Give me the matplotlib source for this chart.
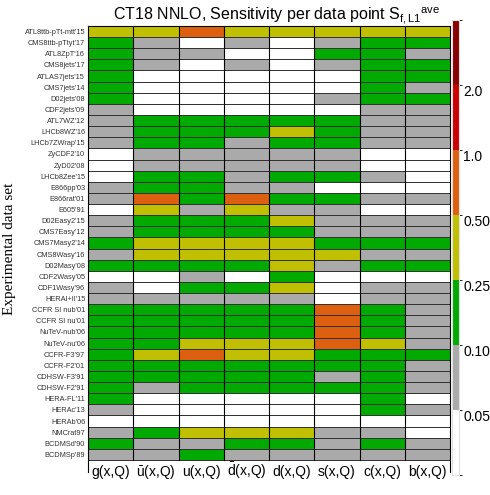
import numpy as np
import matplotlib
matplotlib.use('Agg')
import matplotlib.pyplot as plt
from matplotlib.colors import ListedColormap, BoundaryNorm

plt.rcParams['font.family'] = ['Liberation Sans', 'DejaVu Sans']
plt.rcParams['mathtext.fontset'] = 'custom'
plt.rcParams['mathtext.rm'] = 'Liberation Sans'
plt.rcParams['mathtext.it'] = 'Liberation Sans:italic'

# data sets, top to bottom
datasets = ["ATL8ttb-pTt-mtt'15", "CMS8ttb-pTtyt'17", "ATL8ZpT'16", "CMS8jets'17",
            "ATLAS7jets'15", "CMS7jets'14", "D02jets'08", "CDF2jets'09", "ATL7WZ'12",
            "LHCb8WZ'16", "LHCb7ZWrap'15", "ZyCDF2'10", "ZyD02'08", "LHCb8Zee'15",
            "E866pp'03", "E866rat'01", "E605'91", "D02Easy2'15", "CMS7Easy'12",
            "CMS7Masy2'14", "CMS8Wasy'16", "D02Masy'08", "CDF2Wasy'05", "CDF1Wasy'96",
            "HERAI+II'15", "CCFR SI nub'01", "CCFR SI nu'01", "NuTeV-nub'06",
            "NuTeV-nu'06", "CCFR-F3'97", "CCFR-F2'01", "CDHSW-F3'91", "CDHSW-F2'91",
            "HERA-FL'11", "HERAc'13", "HERAb'06", "NMCrat97", "BCDMSd'90", "BCDMSp'89"]

partons = [r'g(x,Q)', r'$\mathregular{\bar{u}}$(x,Q)', r'u(x,Q)', r'$\mathregular{\bar{d}}$(x,Q)',
           r'd(x,Q)', r's(x,Q)', r'c(x,Q)', r'b(x,Q)']

# approximate sensitivity per data point (bin representative values)
s_g = [0.35, 0.15, 0.15, 0.15, 0.15, 0.15, 0.15, 0.07, 0.07, 0.07, 0.07, 0.03, 0.03,
       0.03, 0.07, 0.07, 0.03, 0.07, 0.07, 0.15, 0.07, 0.15, 0.03, 0.07, 0.07, 0.15,
       0.15, 0.15, 0.15, 0.15, 0.15, 0.15, 0.15, 0.15, 0.07, 0.03, 0.07, 0.15, 0.07]
s_ubar = [0.35, 0.07, 0.07, 0.07, 0.03, 0.03, 0.03, 0.03, 0.15, 0.15, 0.15, 0.07, 0.07,
          0.15, 0.15, 0.7, 0.35, 0.15, 0.15, 0.35, 0.35, 0.15, 0.03, 0.03, 0.07, 0.15,
          0.15, 0.15, 0.15, 0.35, 0.15, 0.15, 0.07, 0.03, 0.03, 0.03, 0.15, 0.07, 0.07]
s_u = [0.7, 0.03, 0.07, 0.03, 0.03, 0.03, 0.03, 0.03, 0.15, 0.15, 0.15, 0.07, 0.07,
       0.15, 0.15, 0.15, 0.07, 0.15, 0.15, 0.35, 0.35, 0.15, 0.07, 0.15, 0.07, 0.15,
       0.15, 0.15, 0.35, 0.7, 0.15, 0.15, 0.15, 0.03, 0.03, 0.03, 0.35, 0.07, 0.15]
s_dbar = [0.35, 0.07, 0.03, 0.07, 0.03, 0.03, 0.03, 0.03, 0.15, 0.15, 0.07, 0.07, 0.07,
          0.07, 0.07, 0.7, 0.35, 0.15, 0.15, 0.35, 0.35, 0.15, 0.03, 0.15, 0.07, 0.15,
          0.15, 0.15, 0.35, 0.35, 0.15, 0.15, 0.15, 0.03, 0.03, 0.03, 0.35, 0.15, 0.07]
s_d = [0.35, 0.03, 0.03, 0.03, 0.03, 0.03, 0.03, 0.03, 0.15, 0.35, 0.15, 0.07, 0.07,
       0.15, 0.07, 0.15, 0.07, 0.35, 0.15, 0.35, 0.35, 0.35, 0.15, 0.35, 0.07, 0.15,
       0.15, 0.15, 0.35, 0.35, 0.15, 0.15, 0.15, 0.03, 0.03, 0.03, 0.35, 0.15, 0.07]
s_s = [0.35, 0.07, 0.15, 0.07, 0.03, 0.03, 0.07, 0.03, 0.15, 0.15, 0.15, 0.07, 0.07,
       0.15, 0.03, 0.15, 0.07, 0.07, 0.07, 0.15, 0.35, 0.07, 0.03, 0.03, 0.03, 0.7,
       0.7, 0.7, 0.7, 0.15, 0.15, 0.07, 0.15, 0.03, 0.03, 0.03, 0.07, 0.07, 0.07]
s_c = [0.35, 0.15, 0.15, 0.15, 0.15, 0.15, 0.15, 0.07, 0.07, 0.07, 0.07, 0.03, 0.03,
       0.07, 0.03, 0.07, 0.03, 0.07, 0.07, 0.15, 0.07, 0.15, 0.03, 0.07, 0.07, 0.15,
       0.15, 0.15, 0.35, 0.15, 0.15, 0.15, 0.15, 0.15, 0.15, 0.03, 0.07, 0.15, 0.07]
s_b = [0.35, 0.15, 0.07, 0.15, 0.15, 0.07, 0.15, 0.07, 0.07, 0.07, 0.07, 0.03, 0.03,
       0.03, 0.03, 0.07, 0.03, 0.07, 0.07, 0.15, 0.07, 0.15, 0.03, 0.07, 0.07, 0.07,
       0.07, 0.07, 0.07, 0.15, 0.07, 0.07, 0.07, 0.03, 0.07, 0.03, 0.03, 0.07, 0.07]

bounds = [0.0, 0.05, 0.10, 0.25, 0.50, 1.0, 2.0, 4.0]
bound_labels = ['0.05', '0.10', '0.25', '0.50', '1.0', '2.0']
colors = ['#ffffff', '#aaaaaa', '#00aa00', '#c0c000', '#dd6010', '#cc0000', '#880000']

sens = np.array([s_g, s_ubar, s_u, s_dbar, s_d, s_s, s_c, s_b]).T
nrow, ncol = sens.shape

cmap = ListedColormap(colors)
norm = BoundaryNorm(bounds, cmap.N)

fig = plt.figure(figsize=(4.9, 4.95), dpi=100)
ax = fig.add_axes([0.1796, 0.0465, 0.739, 0.901])
mesh = ax.pcolormesh(np.arange(ncol + 1), np.arange(nrow + 1), sens, cmap=cmap, norm=norm,
                     edgecolors='#333333', linewidth=0.7)
# vertical separators slightly darker
for x in range(1, ncol):
    ax.plot([x, x], [0, nrow], color='black', lw=0.8)
ax.set_xlim(0, ncol)
ax.set_ylim(nrow + 1.08, 0)
ax.spines['bottom'].set_visible(False)
for sp in ['left', 'right', 'top']:
    ax.spines[sp].set_linewidth(0.8)

ax.set_yticks(np.arange(nrow) + 0.5)
ax.set_yticklabels(datasets, fontsize=5.3, color='#333333')
ax.set_xticks(np.arange(ncol) + 0.5)
ax.set_xticklabels(partons, fontsize=10)
ax.tick_params(axis='y', length=0, pad=2)
ax.tick_params(axis='x', length=0, pad=3)
for lab in ax.get_xticklabels():
    lab.set_va('baseline')
ax.set_ylabel('Experimental data set', family='Liberation Serif', fontsize=11, labelpad=6)
ax.set_title(r'CT18 NNLO, Sensitivity per data point S$_{\mathregular{f,L1}}$$^{\mathregular{ave}}$',
             fontsize=11.5, x=0.52, pad=4)

cax = fig.add_axes([0.9225, 0.0404, 0.0143, 0.919])
cbar = fig.colorbar(mesh, cax=cax, spacing='uniform')
cbar.outline.set_edgecolor('#e0e0e0')
cbar.outline.set_linewidth(0.8)
cbar.set_ticks([])
for b, lab in zip(bounds[1:-1], bound_labels):
    cax.text(1.6, b, lab, transform=cax.get_yaxis_transform(), fontsize=10,
             va='top', ha='left')

fig.savefig('out.png', dpi=100)
